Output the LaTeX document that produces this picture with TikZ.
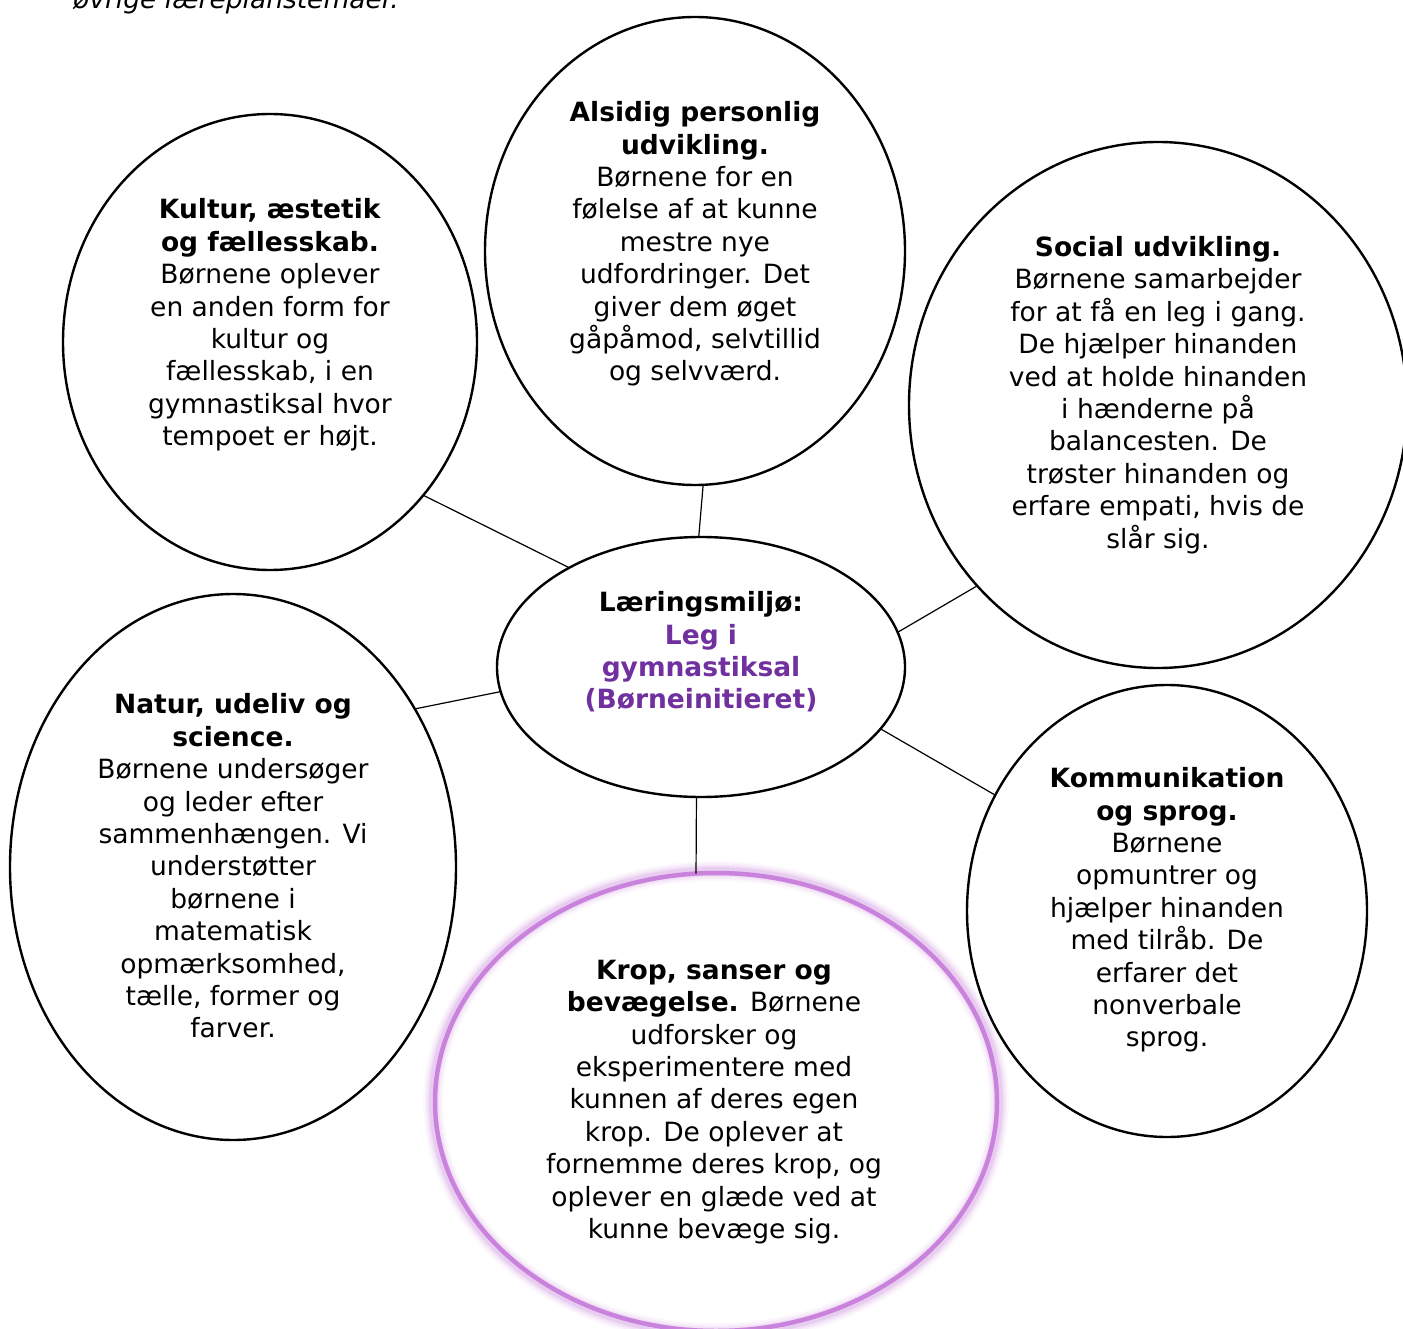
\documentclass[tikz,border=0pt]{standalone}
\usepackage{fontspec}
\setmainfont{DejaVu Sans}
\usetikzlibrary{shapes.geometric}
\definecolor{legpurple}{HTML}{7030A0}
\definecolor{glowpurple}{HTML}{C983DD}
\begin{document}
\begin{tikzpicture}[x=1pt,y=-1pt,
  bubble/.style={ellipse, draw, line width=2.4pt, inner sep=0pt, outer sep=0pt},
  txt/.style={align=center, font=\fontsize{26.5}{32.4}\selectfont, inner sep=0pt},
  link/.style={line width=1.2pt}]
\useasboundingbox (0,0) rectangle (1403,1329);
\fill[white] (0,0) rectangle (1403,1329);

% top cut-off text
\node[anchor=base west, inner sep=0pt, font=\fontsize{26.5}{32.4}\selectfont\itshape] (toptxt) at (73,9) {øvrige læreplanstemaer.};

% ellipses
\node[bubble, minimum width=414, minimum height=456] (kultur) at (270,342) {};
\node[bubble, minimum width=420, minimum height=468] (alsidig) at (695,251) {};
\node[bubble, minimum width=498, minimum height=526] (social) at (1158,405) {};
\node[bubble, minimum width=408, minimum height=260] (center) at (701,667) {};
\node[bubble, minimum width=446, minimum height=546] (natur) at (233,867) {};
\node[bubble, minimum width=400, minimum height=452] (komm) at (1167,911) {};

% glowing ellipse
\foreach \w/\o in {20/0.05, 16/0.08, 12/0.12, 8/0.2} {
  \draw[glowpurple, line width=\w pt, opacity=\o] (716,1102) ellipse [x radius=283, y radius=231];
}
\node[ellipse, draw=glowpurple, line width=4.5pt, inner sep=0pt, outer sep=0pt, minimum width=562, minimum height=458] (krop) at (716,1102) {};

% texts
\node[txt] (kulturtxt) at (270,325) {\textbf{Kultur, æstetik}\\\textbf{og fællesskab.}\\Børnene oplever\\en anden form for\\kultur og\\fællesskab, i en\\gymnastiksal hvor\\tempoet er højt.};
\node[txt] (alsidigtxt) at (695,244) {\textbf{Alsidig personlig}\\\textbf{udvikling.}\\Børnene for en\\følelse af at kunne\\mestre nye\\udfordringer. Det\\giver dem øget\\gåpåmod, selvtillid\\og selvværd.};
\node[txt] (socialtxt) at (1158,395) {\textbf{Social udvikling.}\\Børnene samarbejder\\for at få en leg i gang.\\De hjælper hinanden\\ved at holde hinanden\\i hænderne på\\balancesten. De\\trøster hinanden og\\erfare empati, hvis de\\slår sig.};
\node[txt, font=\fontsize{26.5}{32.4}\selectfont\bfseries] (centertxt) at (701,652) {Læringsmiljø:\\\textcolor{legpurple}{Leg i}\\\textcolor{legpurple}{gymnastiksal}\\\textcolor{legpurple}{(Børneinitieret)}};
\node[txt] (naturtxt) at (233,866) {\textbf{Natur, udeliv og}\\\textbf{science.}\\Børnene undersøger\\og leder efter\\sammenhængen. Vi\\understøtter\\børnene i\\matematisk\\opmærksomhed,\\tælle, former og\\farver.};
\node[txt] (kommtxt) at (1167,910) {\textbf{Kommunikation}\\\textbf{og sprog.}\\Børnene\\opmuntrer og\\hjælper hinanden\\med tilråb. De\\erfarer det\\nonverbale\\sprog.};
\node[txt] (kroptxt) at (714,1102) {\textbf{Krop, sanser og}\\\textbf{bevægelse.} Børnene\\udforsker og\\eksperimentere med\\kunnen af deres egen\\krop. De oplever at\\fornemme deres krop, og\\oplever en glæde ved at\\kunne bevæge sig.};

% connectors
\draw[link] (kultur.-45.6) -- (center.143);
\draw[link] (alsidig.-88.2) -- (center.91.7);
\draw[link] (social.225.2) -- (center.10.3);
\draw[link] (natur.41.9) -- (center.187.1);
\draw[link] (komm.146.7) -- (center.-19.3);
\draw[link] (krop.95.7) -- (center.-92.7);
\end{tikzpicture}
\end{document}
